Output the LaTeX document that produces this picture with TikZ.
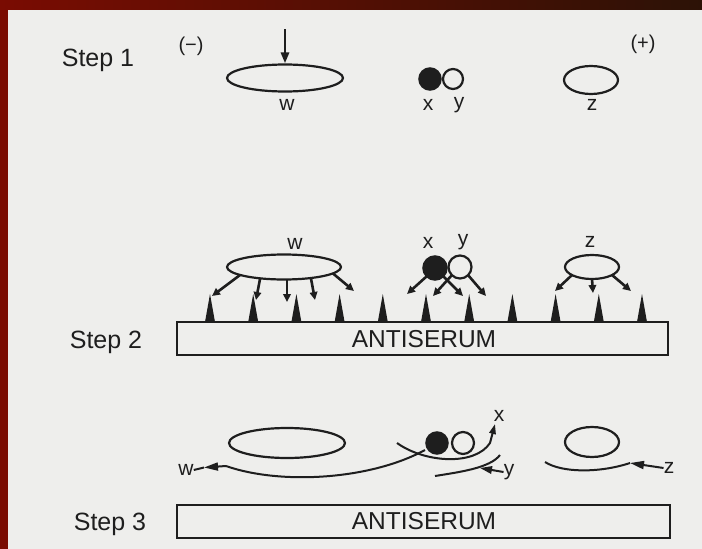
\documentclass[tikz,border=0pt]{standalone}
\usepackage{fontspec}
\setmainfont{Liberation Sans}
\usetikzlibrary{shapes.geometric,arrows.meta}
\definecolor{ink}{HTML}{1E1E1E}
\definecolor{panel}{HTML}{EEEEEC}
\definecolor{framered}{HTML}{7A0C02}
\definecolor{framedark}{HTML}{2C1206}
\begin{document}
\begin{tikzpicture}[x=1pt,y=-1pt,
  oval/.style={draw=ink,line width=2.2pt,ellipse,inner sep=0pt},
  ballblack/.style={draw=ink,fill=ink,line width=1.5pt,circle,inner sep=0pt},
  ballwhite/.style={draw=ink,fill=panel,line width=2.2pt,circle,inner sep=0pt},
  lbl/.style={font=\fontsize{21}{24}\selectfont,text=ink,inner sep=0pt},
  sign/.style={font=\fontsize{20}{24}\selectfont,text=ink,inner sep=0pt},
  steplbl/.style={font=\fontsize{25}{28}\selectfont,text=ink,inner sep=0pt},
  bartext/.style={font=\fontsize{24.5}{28}\selectfont,text=ink,inner sep=0pt},
  antibar/.style={draw=ink,line width=2.8pt,rectangle,inner sep=0pt},
  ab/.style={draw=ink,line width=2.6pt,-{Triangle[length=8pt,width=7.5pt]}},
  curve/.style={draw=ink,line width=2pt},
  tiparrow/.style={draw=ink,line width=2pt,-{Triangle[length=14pt,width=8pt]}}
]
\useasboundingbox (0,0) rectangle (702,549);
% frame and panel
\fill[framered] (0,0) rectangle (702,549);
\shade[left color=framered,right color=framedark] (0,0) rectangle (702,10);
\fill[panel] (8,10) rectangle (702,549);

% ---------------- Step 1 ----------------
\node[steplbl] (s1) at (98,60) {Step 1};
\node[sign] (minus) at (191,46) {(−)};
\node[sign] (plus) at (643,44) {(+)};
\node[oval,minimum width=116pt,minimum height=27pt] (w1) at (285,78) {};
\node[ballblack,minimum size=22pt] (x1) at (430,79) {};
\node[ballwhite,minimum size=20pt] (y1) at (453,79) {};
\node[oval,minimum width=54pt,minimum height=28pt] (z1) at (591,80) {};
\node[lbl] (w1l) at (287,105) {w};
\node[lbl] (x1l) at (428,105) {x};
\node[lbl] (y1l) at (459,105) {y};
\node[lbl] (z1l) at (592,105) {z};
\coordinate (load) at (285,29);
\draw[draw=ink,line width=2.8pt,-{Triangle[length=11pt,width=8pt]}] (load) -- (w1.north);

% ---------------- Step 2 ----------------
\node[steplbl] (s2) at (106,342) {Step 2};
\node[antibar,minimum width=491pt,minimum height=33pt] (bar2) at (422.5,338.5) {};
\node[bartext] (t2) at (424,339) {ANTISERUM};
\foreach \i in {0,...,10}{
  \pgfmathsetmacro{\sx}{210+43.2*\i}
  \fill[ink] (\sx-5,322) -- (\sx,294) -- (\sx+5,322) -- cycle;
}
\node[oval,minimum width=114pt,minimum height=25pt] (w2) at (284,267) {};
\node[ballblack,minimum size=24pt] (x2) at (435,268) {};
\node[ballwhite,minimum size=23pt] (y2) at (460,267) {};
\node[oval,minimum width=54pt,minimum height=24pt] (z2) at (592,267) {};
\node[lbl] (w2l) at (295,244) {w};
\node[lbl] (x2l) at (428,243) {x};
\node[lbl] (y2l) at (463,242) {y};
\node[lbl] (z2l) at (590,242) {z};
% antibodies bound to w
\coordinate (ws1) at (240,275);   \coordinate (wa1) at (212,296);
\coordinate (ws2) at (260,279);   \coordinate (wa2) at (256,300);
\coordinate (ws3) at (287,279.5); \coordinate (wa3) at (287,302);
\coordinate (ws4) at (311,278.5); \coordinate (wa4) at (315,300);
\coordinate (ws5) at (333,273.5); \coordinate (wa5) at (354,291);
\draw[ab] (ws1) -- (wa1);
\draw[ab] (ws2) -- (wa2);
\draw[ab] (ws3) -- (wa3);
\draw[ab] (ws4) -- (wa4);
\draw[ab] (ws5) -- (wa5);
% antibodies bound to x and y
\coordinate (xs1) at (426.5,276.5); \coordinate (xa1) at (407,294);
\coordinate (xs2) at (443.5,276.5); \coordinate (xa2) at (463,296);
\coordinate (ys1) at (452,275);     \coordinate (ya1) at (433,296);
\coordinate (ys2) at (468,275);     \coordinate (ya2) at (486,296);
\draw[ab] (xs1) -- (xa1);
\draw[ab] (xs2) -- (xa2);
\draw[ab] (ys1) -- (ya1);
\draw[ab] (ys2) -- (ya2);
% antibodies bound to z
\coordinate (zs1) at (572,275);   \coordinate (za1) at (555,291);
\coordinate (zs2) at (592,279);   \coordinate (za2) at (593,293);
\coordinate (zs3) at (612,275);   \coordinate (za3) at (631,291);
\draw[ab] (zs1) -- (za1);
\draw[ab] (zs2) -- (za2);
\draw[ab] (zs3) -- (za3);

% ---------------- Step 3 ----------------
\node[steplbl] (s3) at (110,524) {Step 3};
\node[antibar,minimum width=493pt,minimum height=33pt] (bar3) at (423.5,521.5) {};
\node[bartext] (t3) at (424,521) {ANTISERUM};
\node[oval,minimum width=116pt,minimum height=30pt] (w3) at (287,443) {};
\node[ballblack,minimum size=22pt] (x3) at (437,443) {};
\node[ballwhite,minimum size=22pt] (y3) at (463,443) {};
\node[oval,minimum width=54pt,minimum height=30pt] (z3) at (592,442) {};
\node[lbl] (w3l) at (186,470) {w};
\node[lbl] (x3l) at (499,416) {x};
\node[lbl] (y3l) at (509,472) {y};
\node[lbl] (z3l) at (669,468) {z};
% w antibody curve
\coordinate (wc1) at (425,450);
\coordinate (wc2) at (226,466);
\coordinate (wtip) at (204,467.5);
\draw[curve] (wc1) .. controls (370,480) and (280,485) .. (wc2);
\draw[tiparrow] (wc2) -- (wtip);
\draw[curve] (wtip) -- (w3l.east);
% x antibody curve
\coordinate (xc1) at (397,443);
\coordinate (xc2) at (490,443);
\coordinate (xtip) at (495,424);
\draw[curve,-{Triangle[length=10pt,width=6.5pt]}] (xc1) .. controls (425,463) and (475,466) .. (xc2) -- (xtip);
% y antibody curve
\coordinate (yc1) at (435,476);
\coordinate (yc2) at (500,455);
\coordinate (ytip) at (480,468);
\draw[curve] (yc1) .. controls (460,472) and (490,468) .. (yc2);
\draw[curve,-{Triangle[length=12pt,width=7.5pt]}] (y3l.west) -- (ytip);
% z antibody curve
\coordinate (zc1) at (545,462);
\coordinate (zc2) at (630,463);
\draw[curve] (zc1) .. controls (562,473) and (600,473) .. (zc2);
\draw[tiparrow] (z3l.west) -- (zc2);
\end{tikzpicture}
\end{document}
